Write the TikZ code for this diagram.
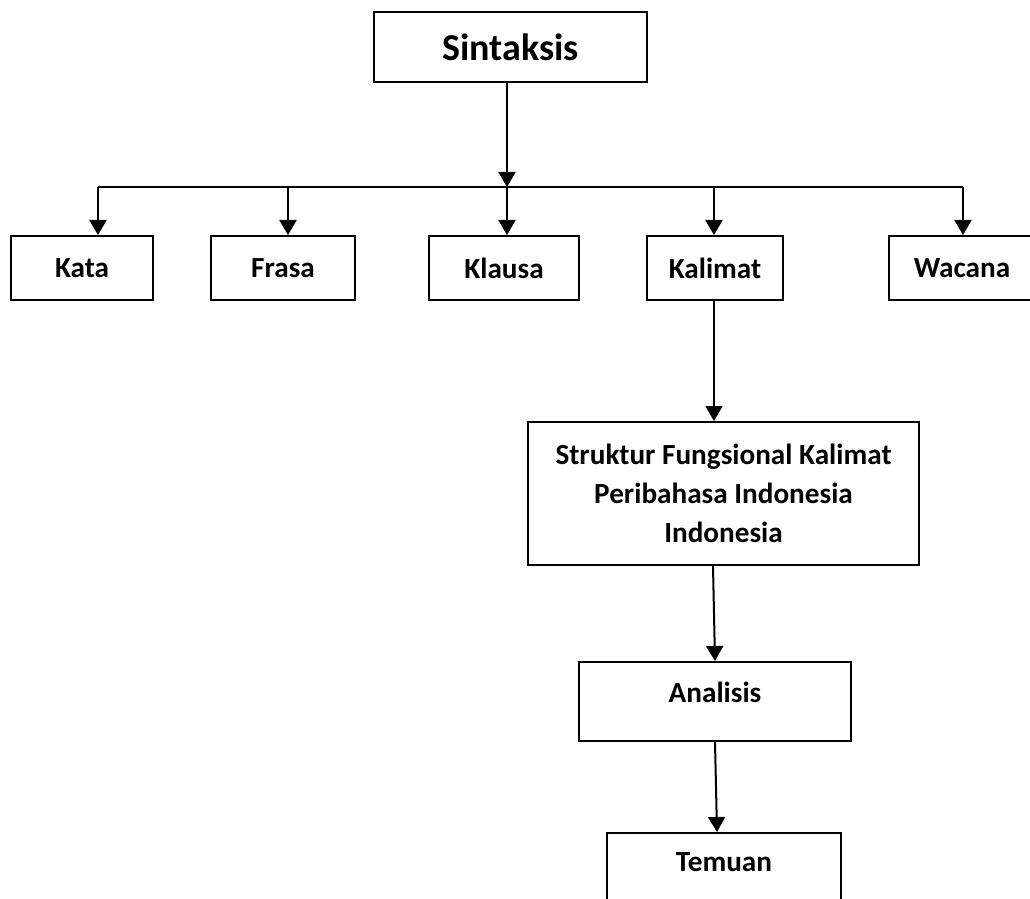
\documentclass[tikz,border=0pt]{standalone}
\usepackage{fontspec}
\setmainfont{Carlito}
\usepackage{tikz}
\usetikzlibrary{positioning,arrows.meta}

\begin{document}
\begin{tikzpicture}[
        x=0.5pt, y=-0.5pt,
        box/.style  = {draw, line width=1pt, inner sep=0pt, minimum height=32pt,
                       font=\bfseries\fontsize{14.6}{19.5}\selectfont, align=center},
        txt/.style  = {inner sep=0pt, font=\bfseries\fontsize{14.6}{19.5}\selectfont},
        arr/.style  = {line width=1pt, -{Triangle[length=7.5pt,width=8.5pt]}},
        line/.style = {line width=1pt}
    ]
        \useasboundingbox (0,0) rectangle (1030,899);
        \clip (0,0) rectangle (1030,899);
        % root
        \node[box, minimum width=136.5pt, minimum height=35pt,
              font=\bfseries\fontsize{19}{23}\selectfont] (sin) at (510.5,47) {Sintaksis};
        % level one
        \node[box, minimum width=71pt] (kata)   at (82,268)  {Kata};
        \node[box, minimum width=72pt] (frasa)  at (283,268) {Frasa};
        \node[box, minimum width=75pt] (klausa) at (504,268) {Klausa};
        \node[box, minimum width=68pt] (kal)    at (715,268) {Kalimat};
        \node[box, minimum width=73pt] (wac)    at (962,268) {Wacana};
        % bus
        \coordinate (busL) at (98,187);
        \coordinate (busR) at (963,187);
        \coordinate (busM) at (507,187);
        \draw[line] (busL) -- (busR);
        \draw[arr] ([xshift=-1.75pt]sin.south) -- (busM);
        \draw[arr] (busL) -- (busL |- kata.north);
        \draw[arr] (busL -| frasa.north) ++(2.5pt,0) -- ([xshift=2.5pt]frasa.north);
        \draw[arr] (busM) -- (busM |- klausa.north);
        \draw[arr] (busL -| kal.north) ++(-0.5pt,0) -- ([xshift=-0.5pt]kal.north);
        \draw[arr] (busR) -- (busR |- wac.north);
        % lower chain
        \node[box, minimum width=195.5pt, minimum height=71.5pt] (struk) at (723.5,493.5)
            {Struktur Fungsional Kalimat\\Peribahasa Indonesia\\Indonesia};
        \node[box, minimum width=136pt, minimum height=39.5pt] (anal) at (715,701.5) {};
        \node[txt] at ([yshift=-15.5pt]anal.north) {Analisis};
        \node[box, minimum width=117pt, minimum height=39.5pt, anchor=north] (tem) at (724,832) {};
        \node[txt] at ([yshift=-15pt]tem.north) {Temuan};
        \draw[arr] ([xshift=-0.5pt]kal.south) -- ([xshift=-0.5pt]kal.south |- struk.north);
        \draw[arr] ([xshift=-5.25pt]struk.south) -- (anal.north);
        \draw[arr] (anal.south) -- ([xshift=-3.5pt]tem.north);
    \end{tikzpicture}
\end{document}
